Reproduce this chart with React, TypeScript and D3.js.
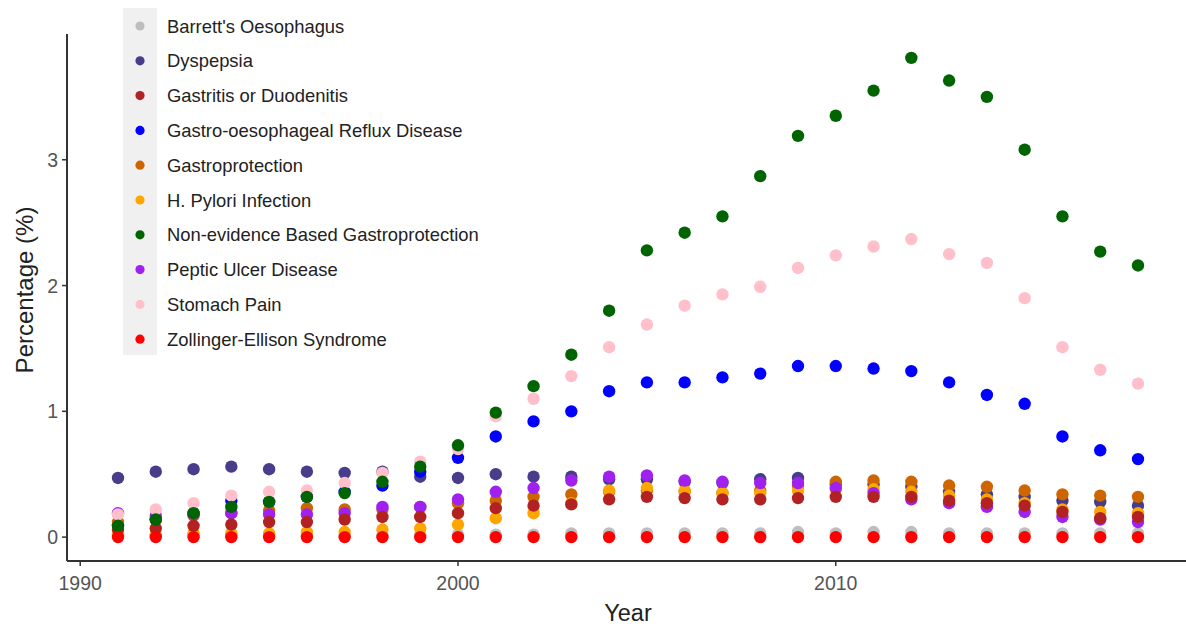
import React from "react";
import * as d3 from "d3";

const years = d3.range(1991, 2019);

const conditions = [
  "Barrett's Oesophagus",
  "Dyspepsia",
  "Gastritis or Duodenitis",
  "Gastro-oesophageal Reflux Disease",
  "Gastroprotection",
  "H. Pylori Infection",
  "Non-evidence Based Gastroprotection",
  "Peptic Ulcer Disease",
  "Stomach Pain",
  "Zollinger-Ellison Syndrome",
];

const colors = [
  "#BEBEBE",
  "#483D8B",
  "#B22222",
  "#0000FF",
  "#CD6600",
  "#FFA500",
  "#006400",
  "#A020F0",
  "#FFC0CB",
  "#FF0000",
];

const barrett = [0.01, 0.01, 0.01, 0.01, 0.01, 0.01, 0.01, 0.01, 0.02, 0.02, 0.02, 0.02, 0.03, 0.03, 0.03, 0.03, 0.03, 0.03, 0.04, 0.03, 0.04, 0.04, 0.03, 0.03, 0.03, 0.03, 0.03, 0.03];
const dyspepsia = [0.47, 0.52, 0.54, 0.56, 0.54, 0.52, 0.51, 0.52, 0.48, 0.47, 0.50, 0.48, 0.48, 0.46, 0.46, 0.44, 0.43, 0.46, 0.47, 0.42, 0.42, 0.40, 0.36, 0.34, 0.32, 0.29, 0.28, 0.25];
const gastritis = [0.06, 0.07, 0.09, 0.10, 0.12, 0.12, 0.14, 0.16, 0.16, 0.19, 0.23, 0.25, 0.26, 0.30, 0.32, 0.31, 0.30, 0.30, 0.31, 0.32, 0.32, 0.32, 0.29, 0.27, 0.25, 0.20, 0.15, 0.16];
const gerd = [0.09, 0.14, 0.19, 0.29, 0.28, 0.32, 0.36, 0.41, 0.52, 0.63, 0.80, 0.92, 1.00, 1.16, 1.23, 1.23, 1.27, 1.30, 1.36, 1.36, 1.34, 1.32, 1.23, 1.13, 1.06, 0.80, 0.69, 0.62];
const gastroprotection = [0.12, 0.14, 0.17, 0.19, 0.21, 0.23, 0.22, 0.22, 0.24, 0.27, 0.29, 0.32, 0.34, 0.36, 0.37, 0.36, 0.35, 0.37, 0.41, 0.44, 0.45, 0.44, 0.41, 0.40, 0.37, 0.34, 0.33, 0.32];
const hPylori = [0.02, 0.02, 0.03, 0.03, 0.03, 0.04, 0.04, 0.06, 0.07, 0.10, 0.15, 0.19, 0.27, 0.37, 0.39, 0.37, 0.35, 0.35, 0.37, 0.38, 0.38, 0.36, 0.33, 0.30, 0.27, 0.22, 0.20, 0.19];
const nonEvidence = [0.09, 0.14, 0.19, 0.24, 0.28, 0.32, 0.35, 0.44, 0.56, 0.73, 0.99, 1.20, 1.45, 1.80, 2.28, 2.42, 2.55, 2.87, 3.19, 3.35, 3.55, 3.81, 3.63, 3.50, 3.08, 2.55, 2.27, 2.16];
const peptic = [0.19, 0.17, 0.18, 0.19, 0.18, 0.18, 0.19, 0.24, 0.24, 0.30, 0.36, 0.39, 0.45, 0.48, 0.49, 0.45, 0.44, 0.43, 0.43, 0.39, 0.35, 0.30, 0.27, 0.24, 0.20, 0.16, 0.14, 0.12];
const stomachPain = [0.18, 0.22, 0.27, 0.33, 0.36, 0.37, 0.43, 0.51, 0.60, 0.70, 0.96, 1.10, 1.28, 1.51, 1.69, 1.84, 1.93, 1.99, 2.14, 2.24, 2.31, 2.37, 2.25, 2.18, 1.90, 1.51, 1.33, 1.22];
const zollinger = [0, 0, 0, 0, 0, 0, 0, 0, 0, 0, 0, 0, 0, 0, 0, 0, 0, 0, 0, 0, 0, 0, 0, 0, 0, 0, 0, 0];

const seriesValues = [barrett, dyspepsia, gastritis, gerd, gastroprotection, hPylori, nonEvidence, peptic, stomachPain, zollinger];

// drawing order (bottom -> top), indices into conditions
const drawOrder = [0, 1, 3, 4, 5, 7, 8, 2, 6, 9];

const xTicks = [1990, 2000, 2010];
const yTicks = [0, 1, 2, 3];

const W = 1186;
const H = 627;
const FONT = "'Liberation Sans', Arial, sans-serif";

export default function App() {
  const x = d3.scaleLinear().domain([1989.65, 2019.35]).range([67, 1189]);
  const y = d3.scaleLinear().domain([-0.19, 4.0]).range([561, 34]);

  const legendY0 = 26;
  const legendStep = 34.8;

  return (
    <svg
      width={W}
      height={H}
      style={{ position: "absolute", left: 0, top: 0, background: "#fff" }}
      fontFamily={FONT}
    >
      <rect x={0} y={0} width={W} height={H} fill="#fff" />
      {/* axes */}
      <line x1={67} x2={W} y1={561} y2={561} stroke="#333" strokeWidth={2} />
      <line x1={67} x2={67} y1={34} y2={561} stroke="#333" strokeWidth={2} />
      {xTicks.map((t) => (
        <g key={"xt" + t}>
          <line x1={x(t)} x2={x(t)} y1={561} y2={566} stroke="#333" strokeWidth={1.5} />
          <text x={x(t)} y={590} textAnchor="middle" fontSize={19.5} fill="#555">
            {t}
          </text>
        </g>
      ))}
      {yTicks.map((t) => (
        <g key={"yt" + t}>
          <line x1={62} x2={67} y1={y(t)} y2={y(t)} stroke="#333" strokeWidth={1.5} />
          <text x={58} y={y(t)} dy="0.36em" textAnchor="end" fontSize={19.5} fill="#555">
            {t}
          </text>
        </g>
      ))}
      <text x={628} y={621} textAnchor="middle" fontSize={23.5} fill="#222">
        Year
      </text>
      <text
        transform={`translate(33, 290) rotate(-90)`}
        textAnchor="middle"
        fontSize={24}
        fill="#222"
      >
        Percentage (%)
      </text>

      {/* points */}
      {drawOrder.map((si) => (
        <g key={"s" + si}>
          {seriesValues[si].map((v, i) => (
            <circle key={i} cx={x(years[i])} cy={y(v)} r={6.2} fill={colors[si]} />
          ))}
        </g>
      ))}

      {/* legend */}
      <rect x={123} y={8} width={34} height={347} fill="#EBEBEB" opacity={0.75} />
      {conditions.map((c, i) => (
        <g key={"l" + i}>
          <circle cx={140} cy={legendY0 + i * legendStep} r={4.6} fill={colors[i]} />
          <text x={167} y={legendY0 + i * legendStep} dy="0.36em" fontSize={18.4} fill="#222">
            {c}
          </text>
        </g>
      ))}
    </svg>
  );
}
